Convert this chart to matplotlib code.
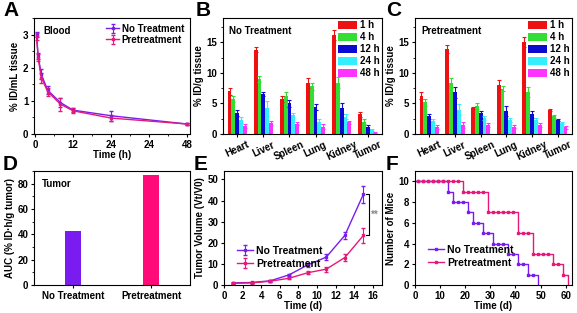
import numpy as np
import matplotlib
matplotlib.use('Agg')
import matplotlib.pyplot as plt
from matplotlib.ticker import AutoMinorLocator
from matplotlib.patches import Patch

plt.rcParams['font.family'] = ['Liberation Sans', 'DejaVu Sans']
plt.rcParams['font.weight'] = 'bold'
plt.rcParams['axes.labelweight'] = 'bold'
plt.rcParams['font.size'] = 7
plt.rcParams['axes.linewidth'] = 0.8
plt.rcParams['xtick.major.size'] = 2.5
plt.rcParams['ytick.major.size'] = 2.5
plt.rcParams['xtick.minor.size'] = 1.5
plt.rcParams['ytick.minor.size'] = 1.5
plt.rcParams['xtick.major.pad'] = 1.5
plt.rcParams['ytick.major.pad'] = 1.5

# D A T A ##################################################################
PURPLE = '#7a1cf0'
PINK   = '#e6197a'

blood_t     = [0.5, 1, 2, 4, 8, 12, 24, 48]
blood_no    = [3.0, 2.35, 1.8, 1.32, 0.95, 0.72, 0.55, 0.3]
blood_no_e  = [0.08, 0.1, 0.15, 0.12, 0.15, 0.06, 0.15, 0.03]
blood_pre   = [2.95, 2.3, 1.7, 1.28, 0.9, 0.7, 0.48, 0.3]
blood_pre_e = [0.1, 0.1, 0.15, 0.12, 0.2, 0.08, 0.08, 0.03]
blood_ticks = [0, 12, 24, 36, 48]
blood_tick_labels = ['0', '12', '24', '24', '48']

organs      = ['Heart', 'Liver', 'Spleen', 'Lung', 'Kidney', 'Tumor']
timepoints  = ['1 h', '4 h', '12 h', '24 h', '48 h']
bar_colors  = ['#ee1111', '#33dd33', '#0a0ad0', '#33eeff', '#ff33ff']

bio_no = [
    [7.0, 13.8, 5.7, 8.4, 16.2, 3.2],   # 1 h
    [5.8, 9.0, 6.2, 7.8, 8.4, 2.0],     # 4 h
    [3.4, 6.5, 5.0, 4.4, 4.2, 1.2],     # 12 h
    [2.3, 4.2, 3.1, 2.0, 2.8, 0.7],     # 24 h
    [1.3, 1.8, 1.7, 1.2, 1.9, 0.3],     # 48 h
]
bio_no_e = [
    [0.6, 0.4, 0.5, 0.8, 0.8, 0.4],
    [0.5, 0.5, 0.6, 0.6, 0.9, 0.4],
    [0.5, 0.3, 0.5, 0.5, 0.9, 0.3],
    [0.5, 1.2, 0.4, 0.4, 0.4, 0.2],
    [0.3, 0.4, 0.3, 0.4, 0.2, 0.1],
]
bio_pre = [
    [6.3, 13.9, 4.3, 8.1, 15.1, 3.9],
    [5.2, 8.3, 4.6, 7.4, 6.9, 2.9],
    [2.9, 6.8, 3.4, 3.8, 3.2, 2.3],
    [2.1, 4.0, 2.6, 2.3, 2.3, 1.8],
    [1.2, 1.5, 1.5, 1.2, 1.5, 1.1],
]
bio_pre_e = [
    [0.5, 0.7, 0.2, 0.8, 0.8, 0.2],
    [0.6, 0.8, 0.5, 0.4, 0.8, 0.2],
    [0.4, 0.9, 0.4, 0.8, 0.5, 0.2],
    [0.3, 0.9, 0.3, 0.3, 0.3, 0.2],
    [0.3, 0.5, 0.3, 0.2, 0.3, 0.2],
]

auc_groups = ['No Treatment', 'Pretreatment']
auc_values = [43, 87]

vol_days  = [1, 3, 5, 7, 9, 11, 13, 15]
vol_no    = [1.0, 1.2, 2.0, 4.8, 9.5, 13.2, 23.5, 43.0]
vol_no_e  = [0.3, 0.3, 0.4, 0.6, 0.8, 1.5, 1.8, 4.0]
vol_pre   = [0.8, 1.0, 1.8, 3.2, 5.8, 7.5, 13.0, 23.5]
vol_pre_e = [0.3, 0.3, 0.4, 0.5, 0.7, 1.2, 1.5, 3.5]

surv_no_t   = [0, 13, 15, 21, 23, 27, 31, 37, 41, 45, 49]
surv_no_n   = [10, 9, 8, 7, 6, 5, 4, 3, 2, 1, 0]
surv_pre_t  = [0, 19, 29, 41, 47, 55, 59, 61]
surv_pre_n  = [10, 9, 7, 5, 3, 2, 1, 0]


# H E L P E R S ############################################################
W, H = 577, 313

def make_axes(fig, left, right, top, bottom):
  return fig.add_axes([left / W, 1 - bottom / H, (right - left) / W, (bottom - top) / H])

def panel_letter(fig, x, y, letter):
  fig.text(x / W, 1 - y / H, letter, fontsize=15, fontweight='bold', va='center', ha='left')

def draw_bio(ax, data, err, title):
  n = len(timepoints)
  width = 0.15
  x = np.arange(len(organs))
  for i in range(n):
    pos = x + (i - (n - 1) / 2) * width
    ax.bar(pos, data[i], width, color=bar_colors[i], yerr=err[i],
           error_kw=dict(ecolor=bar_colors[i], elinewidth=0.8, capsize=1.2, capthick=0.8))
  ax.set_xlim(-0.55, len(organs) - 0.45)
  ax.set_ylim(0, 19)
  ax.set_yticks([0, 5, 10, 15])
  ax.yaxis.set_minor_locator(AutoMinorLocator(2))
  ax.set_xticks(x)
  ax.set_xticklabels(organs, rotation=25, ha='center')
  ax.set_ylabel('% ID/g tissue', labelpad=2)
  ax.text(0.04, 0.93, title, transform=ax.transAxes, fontweight='bold', fontsize=7, va='top')
  handles = [Patch(facecolor=c, edgecolor='none') for c in bar_colors]
  ax.legend(handles, timepoints, loc='upper right', frameon=False, handlelength=1.9,
            handleheight=0.9, labelspacing=0.2, handletextpad=0.3, borderaxespad=0.15,
            borderpad=0.1, prop=dict(weight='bold', size=7))


# F I G U R E ##############################################################
fig = plt.figure(figsize=(W / 100, H / 100), dpi=100)

# A - blood
ax = make_axes(fig, 34, 190, 18, 134)
ax.errorbar(blood_t, blood_no, yerr=blood_no_e, color=PURPLE, marker='s', ms=2, lw=1,
            capsize=1.2, elinewidth=0.8, label='No Treatment')
ax.errorbar(blood_t, blood_pre, yerr=blood_pre_e, color=PINK, marker='s', ms=2, lw=1,
            capsize=1.2, elinewidth=0.8, label='Pretreatment')
ax.set_xlim(-0.3, 48.8)
ax.set_ylim(0, 3.5)
ax.set_xticks(blood_ticks)
ax.set_xticklabels(blood_tick_labels)
ax.set_yticks([0, 1, 2, 3])
ax.xaxis.set_minor_locator(AutoMinorLocator(2))
ax.yaxis.set_minor_locator(AutoMinorLocator(2))
ax.set_xlabel('Time (h)', labelpad=0)
ax.set_ylabel('% ID/mL tissue', labelpad=2)
ax.text(0.06, 0.93, 'Blood', transform=ax.transAxes, fontweight='bold', va='top')
ax.legend(loc='upper right', frameon=False, handlelength=1.3, labelspacing=0.1,
          handletextpad=0.3, borderaxespad=0.2, prop=dict(weight='bold', size=7))
panel_letter(fig, 3, 11, 'A')

# B, C - biodistribution
ax = make_axes(fig, 223, 382, 18, 134)
draw_bio(ax, bio_no, bio_no_e, 'No Treatment')
panel_letter(fig, 196, 11, 'B')

ax = make_axes(fig, 415, 572, 18, 134)
draw_bio(ax, bio_pre, bio_pre_e, 'Pretreatment')
panel_letter(fig, 386, 11, 'C')

# D - AUC
ax = make_axes(fig, 34, 190, 171, 285)
ax.bar([0, 1], auc_values, width=0.2, color=[PURPLE, '#ff0a78'])
ax.set_xlim(-0.5, 1.5)
ax.set_ylim(0, 90)
ax.set_yticks([0, 20, 40, 60, 80])
ax.yaxis.set_minor_locator(AutoMinorLocator(2))
ax.set_xticks([0, 1])
ax.set_xticklabels(auc_groups)
ax.set_ylabel('AUC (% ID\u00b7h/g tumor)', labelpad=2)
ax.text(0.05, 0.93, 'Tumor', transform=ax.transAxes, fontweight='bold', va='top')
panel_letter(fig, 3, 164, 'D')

# E - tumor volume
ax = make_axes(fig, 224, 382, 171, 285)
ax.errorbar(vol_days, vol_no, yerr=vol_no_e, color=PURPLE, marker='s', ms=2, lw=1,
            capsize=1.2, elinewidth=0.8, label='No Treatment')
ax.errorbar(vol_days, vol_pre, yerr=vol_pre_e, color=PINK, marker='s', ms=2, lw=1,
            capsize=1.2, elinewidth=0.8, label='Pretreatment')
ax.plot([15.3, 15.6, 15.6, 15.3], [vol_no[-1], vol_no[-1], vol_pre[-1], vol_pre[-1]],
        color='black', lw=0.8)
ax.text(15.8, (vol_no[-1] + vol_pre[-1]) / 2, '**', color='#888888', va='center', fontsize=7)
ax.set_xlim(0, 17)
ax.set_ylim(0, 54)
ax.set_xticks(range(0, 17, 2))
ax.set_yticks(range(0, 51, 10))
ax.set_xlabel('Time (d)', labelpad=0)
ax.set_ylabel('Tumor Volume (Vt/V0)', labelpad=2)
ax.legend(loc='lower left', bbox_to_anchor=(0.02, 0.06), frameon=False, handlelength=1.6,
          labelspacing=0.3, handletextpad=0.3, prop=dict(weight='bold', size=7.5))
panel_letter(fig, 194, 164, 'E')

# F - survival
ax = make_axes(fig, 415, 572, 171, 285)
for t, n, col, lab in [(surv_no_t, surv_no_n, PURPLE, 'No Treatment'),
                       (surv_pre_t, surv_pre_n, PINK, 'Pretreatment')]:
  ax.step(t, n, where='post', color=col, lw=1)
  mk_t = np.arange(1, t[-1], 2)
  mk_n = np.array(n)[np.searchsorted(t, mk_t, side='right') - 1]
  ax.plot(mk_t, mk_n, ls='none', marker='s', ms=1.6, color=col)
  ax.plot([], [], color=col, marker='s', ms=2, lw=1, label=lab)
ax.set_xlim(0, 62.5)
ax.set_ylim(0, 11)
ax.set_xticks(range(0, 61, 10))
ax.set_yticks(range(0, 11, 2))
ax.set_xlabel('Time (d)', labelpad=0)
ax.set_ylabel('Number of Mice', labelpad=2)
ax.legend(loc='lower left', bbox_to_anchor=(0.02, 0.07), frameon=False, handlelength=1.6,
          labelspacing=0.3, handletextpad=0.3, prop=dict(weight='bold', size=7.5))
panel_letter(fig, 386, 164, 'F')

fig.savefig('out.png', dpi=100)
